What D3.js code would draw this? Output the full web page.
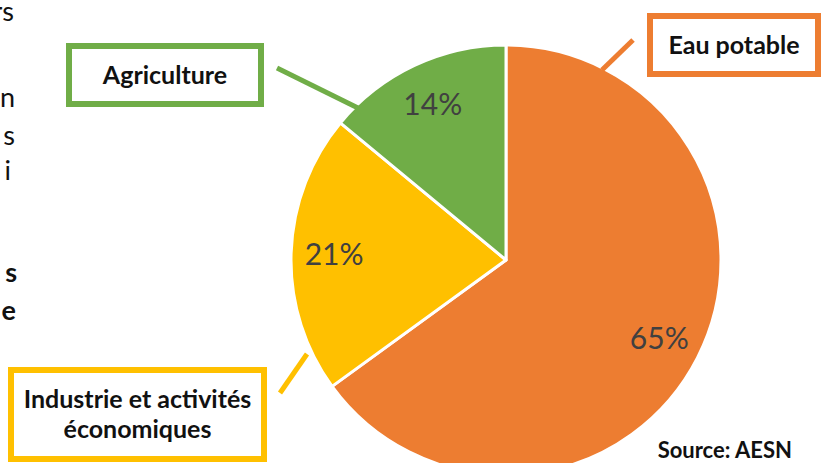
<!DOCTYPE html>
<html lang="fr">
<head>
<meta charset="UTF-8">
<title>Répartition des prélèvements</title>
<script src="https://cdn.jsdelivr.net/npm/d3@7"></script>
<style>
  html, body { margin: 0; padding: 0; background: #fff; }
  svg { display: block; font-family: Lato, "Open Sans", sans-serif; }
</style>
</head>
<body>
<svg width="824" height="463"></svg>
<script>
// data
var categories = ["Eau potable", "Industrie et activités économiques", "Agriculture"];
var values = [65, 21, 14];
var sliceColors = ["#ED7D31", "#FFC000", "#70AD47"];
var sourceText = "Source: AESN";

// cut-off paragraph on the left edge of the page
var leftFragments = [
    { t: "rs", y: 21, x: 14, bold: false },
    { t: "n", y: 107, x: 15, bold: false },
    { t: "s", y: 145, x: 15, bold: false },
    { t: "i", y: 180, x: 11, bold: false },
    { t: "s", y: 282, x: 17, bold: true },
    { t: "e", y: 320, x: 16, bold: true }
];

// callout boxes (outer bounds) and their pointer lines
var callouts = [
    { lines: ["Eau potable"], box: [647, 13, 821, 77], line: [633, 40, 602, 70] },
    { lines: ["Industrie et activités", "économiques"], box: [8, 367, 267, 462], line: [280, 393, 307, 354] },
    { lines: ["Agriculture"], box: [66, 43, 264, 107], line: [277, 68, 358, 108] }
];

var svg = d3.select("svg");
var cx = 506, cy = 260, radius = 215;

var pie = d3.pie().sort(null).value(function (d) { return d; });
var arc = d3.arc().innerRadius(0).outerRadius(radius);
var labelArc = d3.arc().innerRadius(172).outerRadius(172);

var g = svg.append("g").attr("transform", "translate(" + cx + "," + cy + ")");

g.selectAll("path")
    .data(pie(values))
    .enter().append("path")
    .attr("d", arc)
    .attr("fill", function (d, i) { return sliceColors[i]; })
    .attr("stroke", "#fff")
    .attr("stroke-width", 3)
    .attr("stroke-linejoin", "round");

g.selectAll("text.pct")
    .data(pie(values))
    .enter().append("text")
    .attr("class", "pct")
    .attr("transform", function (d) { return "translate(" + labelArc.centroid(d) + ")"; })
    .attr("text-anchor", "middle")
    .attr("dy", "0.36em")
    .attr("font-size", 30)
    .attr("fill", "#404040")
    .text(function (d) { return d.data + "%"; });

// callouts
callouts.forEach(function (c, i) {
    var b = c.box, sw = 6;
    svg.append("line")
        .attr("x1", c.line[0]).attr("y1", c.line[1])
        .attr("x2", c.line[2]).attr("y2", c.line[3])
        .attr("stroke", sliceColors[i])
        .attr("stroke-width", 5);
    svg.append("rect")
        .attr("x", b[0] + sw / 2).attr("y", b[1] + sw / 2)
        .attr("width", b[2] - b[0] - sw).attr("height", b[3] - b[1] - sw)
        .attr("fill", "#fff")
        .attr("stroke", sliceColors[i])
        .attr("stroke-width", sw);
    var mx = (b[0] + b[2]) / 2, my = (b[1] + b[3]) / 2;
    var lh = 30;
    var t = svg.append("text")
        .attr("text-anchor", "middle")
        .attr("font-size", 25)
        .attr("font-weight", "bold")
        .attr("fill", "#111");
    c.lines.forEach(function (s, j) {
        t.append("tspan")
            .attr("x", mx)
            .attr("y", my + (j - (c.lines.length - 1) / 2) * lh)
            .attr("dy", "0.35em")
            .text(s);
    });
});

svg.append("text")
    .attr("x", 792).attr("y", 458)
    .attr("text-anchor", "end")
    .attr("font-size", 22)
    .attr("font-weight", "bold")
    .attr("fill", "#111")
    .text(sourceText);

svg.selectAll("text.frag")
    .data(leftFragments)
    .enter().append("text")
    .attr("class", "frag")
    .attr("x", function (d) { return d.x; })
    .attr("y", function (d) { return d.y; })
    .attr("text-anchor", "end")
    .attr("font-size", 27)
    .attr("font-weight", function (d) { return d.bold ? "bold" : "normal"; })
    .attr("fill", "#111")
    .text(function (d) { return d.t; });
</script>
</body>
</html>
